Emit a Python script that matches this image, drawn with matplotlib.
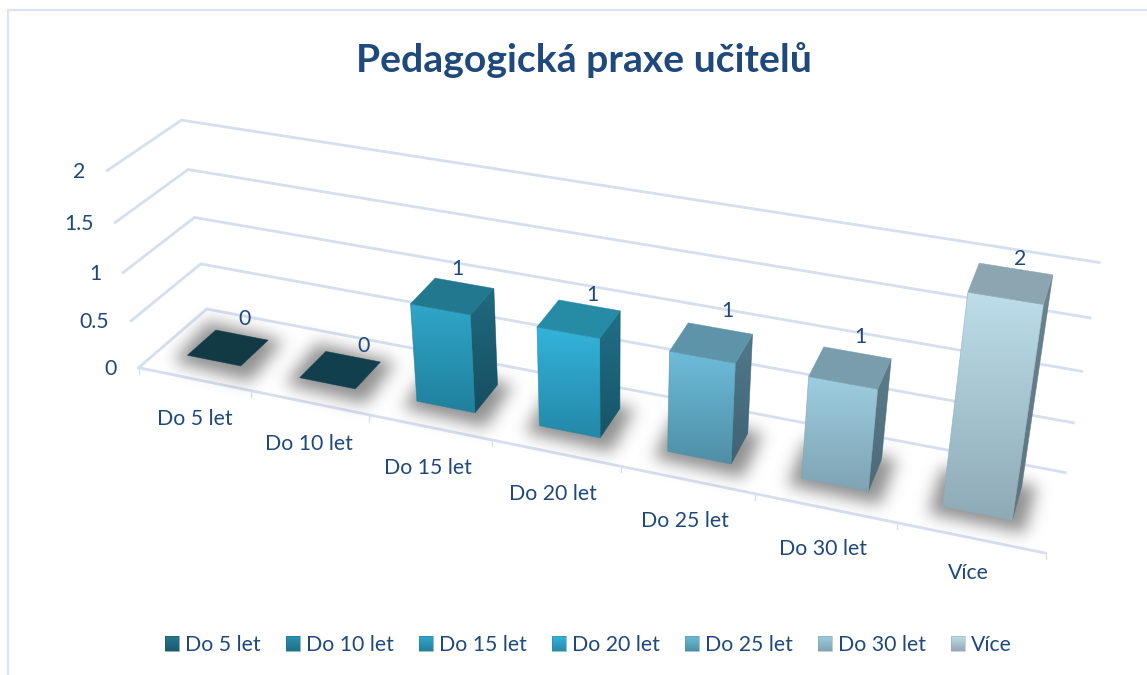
import numpy as np
import matplotlib
matplotlib.use("Agg")
import matplotlib.pyplot as plt
from matplotlib.path import Path
from matplotlib.patches import Polygon
from matplotlib.colors import to_rgb

# ---- data ----
title = "Pedagogická praxe učitelů"
categories = ["Do 5 let", "Do 10 let", "Do 15 let", "Do 20 let", "Do 25 let", "Do 30 let", "Více"]
values = [0, 0, 1, 1, 1, 1, 2]
value_ticks = [0, 0.5, 1, 1.5, 2]
value_tick_labels = ["0", "0.5", "1", "1.5", "2"]

# ---- styles ----
W, H = 1147, 675
TEXT = "#1f497d"
GRID = "#d5dfee"
BORDER = "#d9e5f4"
FS = 15.3
front_top = ["#123a45", "#123f4d", "#2fa6c8", "#33b3da", "#6cbcd9", "#9ccde0", "#bcdde9"]
front_bot = ["#123a45", "#123f4d", "#20809d", "#2488a8", "#4f8fa6", "#7fa3b3", "#8faab7"]
top_col = ["#123a45", "#123f4d", "#22788f", "#268ba5", "#5e94a9", "#7a9dac", "#8ca6b1"]
side_top = ["#123a45", "#123f4d", "#1f6a80", "#216f88", "#50798b", "#5d7d8b", "#6a8490"]
side_bot = ["#123a45", "#123f4d", "#164e60", "#175466", "#3f6373", "#4c6a78", "#5c7480"]
legend_top = ["#26788f", "#2a93b0", "#33a6c8", "#36b3d9", "#6cbcd9", "#9ccde0", "#bcdde9"]
legend_bot = ["#1c5a6e", "#207088", "#26809d", "#2a88a8", "#4f8fa6", "#7fa3b3", "#94a9b3"]
BAR_X0, BAR_X1 = 0.255, 0.735
BAR_Z0, BAR_Z1 = 0.295, 0.72

# camera calibration of the chart's box: (x, value, depth) -> pixel
NX = len(categories)
calib = []
fl = [(139, 367), (131, 321), (123, 273), (115, 223), (107, 171)]
bl = [(207, 309), (200, 264), (195, 217), (188, 169), (182, 120)]
br = [(1065, 473), (1073, 424), (1082, 372), (1090, 317), (1099, 262)]
for v, a, b, c in zip(value_ticks, fl, bl, br):
    calib += [((0, v, 0), a), ((0, v, 1), b), ((NX, v, 1), c)]
calib += [((NX, 0, 0), (1046, 552))]
rows = []
for (X, Y, Z), (u, p) in calib:
    rows.append([X, Y, Z, 1, 0, 0, 0, 0, -u * X, -u * Y, -u * Z, -u])
    rows.append([0, 0, 0, 0, X, Y, Z, 1, -p * X, -p * Y, -p * Z, -p])
_, _, vh = np.linalg.svd(np.array(rows, float))
CAM = vh[-1].reshape(3, 4)


def P(x, v, z):
    q = CAM @ np.array([x, v, z, 1.0])
    return q[0] / q[2], q[1] / q[2]


fig = plt.figure(figsize=(W / 100, H / 100), dpi=100, facecolor="white")
ax = fig.add_axes([0, 0, 1, 1])
plt.rcParams["font.family"] = ["Lato", "DejaVu Sans"]


def face(poly, c1, c2, z):
    poly = np.array(poly)
    x0, y0 = poly.min(axis=0)
    x1, y1 = poly.max(axis=0)
    a, b = np.array(to_rgb(c1)), np.array(to_rgb(c2))
    t = np.linspace(0, 1, 64)[:, None, None]
    img = (a[None, None, :] * (1 - t) + b[None, None, :] * t)
    im = ax.imshow(img, extent=(x0, x1, y1, y0), aspect="auto", zorder=z, interpolation="bilinear")
    patch = Polygon(poly, closed=True, transform=ax.transData)
    im.set_clip_path(patch)
    ax.add_patch(Polygon(poly, closed=True, fill=False, ec=c2, lw=0.5, alpha=0.7, zorder=z + 0.01))


def blur(a, s):
    r = int(3 * s)
    k = np.exp(-0.5 * (np.arange(-r, r + 1) / s) ** 2)
    k /= k.sum()
    a = np.apply_along_axis(lambda m: np.convolve(m, k, mode="same"), 0, a)
    return np.apply_along_axis(lambda m: np.convolve(m, k, mode="same"), 1, a)


def shadow(poly, z):
    poly = np.array(poly)
    c = poly.mean(axis=0)
    d = poly - c
    n = np.linalg.norm(d, axis=1, keepdims=True)
    grown = c + d * (1 + 15 / n) + np.array([0, 3])
    pad = 60
    x0, y0 = np.floor(poly.min(axis=0) - pad).astype(int)
    x1, y1 = np.ceil(poly.max(axis=0) + pad).astype(int)
    xx, yy = np.meshgrid(np.arange(x0, x1), np.arange(y0, y1))
    m = Path(grown).contains_points(np.c_[xx.ravel(), yy.ravel()]).reshape(xx.shape).astype(float)
    m = blur(m, 8.0)
    rgba = np.zeros(m.shape + (4,))
    rgba[..., :3] = 0.38
    rgba[..., 3] = m * 0.7
    ax.imshow(rgba, extent=(x0, x1, y1, y0), aspect="auto", zorder=z, interpolation="bilinear")


# walls' grid lines
for v in value_ticks:
    pts = [P(0, v, 0), P(0, v, 1), P(NX, v, 1)]
    ax.plot(*zip(*pts), color=GRID, lw=2, zorder=1, solid_joinstyle="miter")
ax.plot(*zip(P(0, 0, 0), P(NX, 0, 0)), color=GRID, lw=2, zorder=1)
for i in range(NX + 1):
    a = P(i, 0, 0)
    ax.plot([a[0], a[0]], [a[1], a[1] + 6], color=GRID, lw=1, zorder=1)

# bars
for i, v in enumerate(values):
    x0, x1 = i + BAR_X0, i + BAR_X1
    foot = [P(x0, 0, BAR_Z0), P(x1, 0, BAR_Z0), P(x1, 0, BAR_Z1), P(x0, 0, BAR_Z1)]
    shadow(foot, 2 + i * 0.1)
for i, v in enumerate(values):
    x0, x1 = i + BAR_X0, i + BAR_X1
    z = 4 + i
    front = [P(x0, v, BAR_Z0), P(x1, v, BAR_Z0), P(x1, 0, BAR_Z0), P(x0, 0, BAR_Z0)]
    top = [P(x0, v, BAR_Z0), P(x1, v, BAR_Z0), P(x1, v, BAR_Z1), P(x0, v, BAR_Z1)]
    side = [P(x1, v, BAR_Z0), P(x1, v, BAR_Z1), P(x1, 0, BAR_Z1), P(x1, 0, BAR_Z0)]
    if v > 0:
        face(side, side_top[i], side_bot[i], z)
        face(front, front_top[i], front_bot[i], z + 0.1)
    face(top, top_col[i], top_col[i], z + 0.2)

# value labels
label_off = [(2, -16), (10, -11), (-8, -14), (2, -11), (7, -18), (2, -16), (4, -10)]
for i, v in enumerate(values):
    c = P(i + 0.5, v, BAR_Z1)
    ax.text(c[0] + label_off[i][0], c[1] + label_off[i][1], str(v), color=TEXT, fontsize=FS,
            ha="center", va="center", zorder=20)

# value axis labels
for v, s in zip(value_ticks, value_tick_labels):
    p = P(0, v, 0)
    ax.text(p[0] - 22, p[1] + 1.5, s, color=TEXT, fontsize=FS, ha="right", va="center", zorder=20)

# category labels
cat_pos = [(195, 419), (309, 444), (428, 468), (553, 494), (685, 521), (823, 549), (968, 573)]
for s, (x, y) in zip(categories, cat_pos):
    ax.text(x, y, s, color=TEXT, fontsize=FS, ha="center", va="center", zorder=20)

# legend
leg_x = [165, 286, 419, 552, 685, 818, 951]
for i, (s, x) in enumerate(zip(categories, leg_x)):
    face([(x, 636), (x + 14, 636), (x + 14, 651), (x, 651)], legend_top[i], legend_bot[i], 20)
    ax.text(x + 20, 645, s, color=TEXT, fontsize=FS, ha="left", va="center", zorder=20)

ax.text(584, 60, title, color=TEXT, fontsize=28.2, fontweight="bold", ha="center", va="center", zorder=20)

# frame
ax.plot([8, 8], [10, H], color=BORDER, lw=1.5, zorder=0)
ax.plot([8, W], [10, 10], color=BORDER, lw=1.5, zorder=0)

ax.set_xlim(0, W)
ax.set_ylim(H, 0)
ax.axis("off")
fig.savefig("out.png", dpi=100)
